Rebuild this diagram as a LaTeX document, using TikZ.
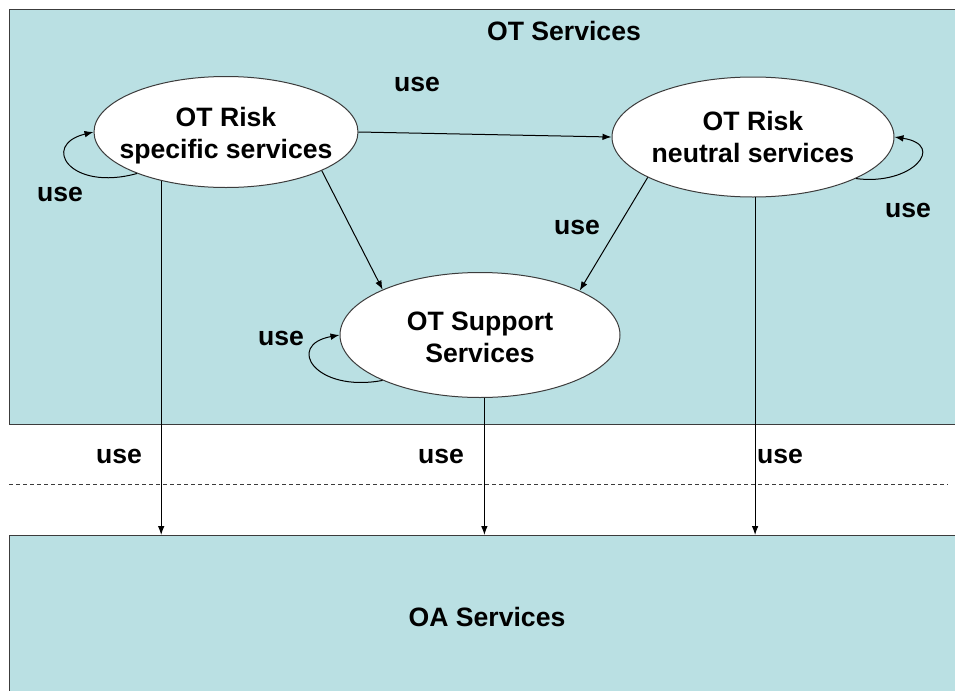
\documentclass[tikz,border=0pt]{standalone}
\usepackage{fontspec}
\setmainfont{Liberation Sans}
\usetikzlibrary{shapes.geometric,arrows.meta}
\definecolor{panel}{RGB}{186,224,227}
\definecolor{edge}{RGB}{60,60,60}
\tikzset{
  txt/.style={font=\bfseries\fontsize{13.3}{16}\selectfont, inner sep=0pt},
  svc/.style={ellipse, draw=edge, fill=white, line width=0.5pt, inner sep=0pt},
  conn/.style={draw=black, line width=0.5pt, -{Latex[length=4.5pt,width=3.3pt]}},
  panelbox/.style={rectangle, draw=edge, fill=panel, line width=0.6pt,
                   inner sep=0pt, anchor=north west},
}
\begin{document}
\begin{tikzpicture}[x=0.5pt,y=-0.5pt]
\useasboundingbox (0,0) rectangle (955,691);
\clip (0,0) rectangle (955,691);

% layers
\node[panelbox, minimum width=480pt, minimum height=207.5pt] (OT) at (9,9) {};
\node[panelbox, minimum width=480pt, minimum height=90pt] (OA) at (9,535) {};
\coordinate (dl) at (9,484);
\coordinate (dr) at (948,484);
\draw[edge, line width=0.5pt, dash pattern=on 2pt off 1.5pt] (dl) -- (dr);

\node[txt] (ottitle) at (564,31) {OT Services};
\node[txt] (oatitle) at (487,617) {OA Services};

% services
\node[svc, minimum width=132pt, minimum height=55.5pt,
      label={[txt,align=center,yshift=-2pt]center:OT Risk\\specific services}] (A) at (226,132) {};
\node[svc, minimum width=141pt, minimum height=60pt,
      label={[txt,align=center]center:OT Risk\\neutral services}] (B) at (753,137) {};
\node[svc, minimum width=140pt, minimum height=62.5pt,
      label={[txt,align=center,yshift=-1pt]center:OT Support\\Services}] (C) at (480,335) {};

% dependencies between services
\draw[conn] (A.east) -- (B.west);
\draw[conn] (A.-22) -- (C.155);
\draw[conn] (B.201) -- (C.24);

% self use
\draw[conn] (A.205) .. controls (70,192) and (40,145) .. (A.west);
\draw[conn] (B.-22) .. controls (912,186) and (947,145) .. (B.east);
\draw[conn] (C.205) .. controls (315,393) and (285,345) .. (C.west);

% use of the OA layer
\draw[conn] (A.217) -- (A.217 |- OA.north);
\draw[conn] (C.-86) -- (C.-86 |- OA.north);
\draw[conn] (B.-88) -- (B.-88 |- OA.north);

% labels
\node[txt] (u1) at (417,84) {use};
\node[txt] (u2) at (60,194) {use};
\node[txt] (u3) at (577,227) {use};
\node[txt] (u4) at (908,210) {use};
\node[txt] (u5) at (281,338) {use};
\node[txt] (u6) at (119,456) {use};
\node[txt] (u7) at (441,456) {use};
\node[txt] (u8) at (780,456) {use};
\end{tikzpicture}
\end{document}
